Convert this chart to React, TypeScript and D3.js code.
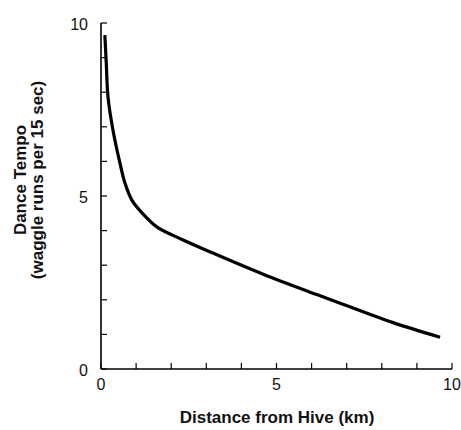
import React from 'react'
import * as d3 from 'd3'

// Data
const distance = [0.11, 0.15, 0.2, 0.34, 0.54, 0.68, 0.88, 1.17, 1.6, 2.34, 3.19, 4.62, 6.15, 6.89, 8.32, 9.66]
const tempo = [9.65, 8.84, 7.86, 6.91, 5.95, 5.38, 4.88, 4.51, 4.1, 3.73, 3.35, 2.74, 2.15, 1.87, 1.34, 0.92]
const xTickLabels = [0, 5, 10]
const yTickLabels = [0, 5, 10]
const minorTicks = d3.range(0, 11)

export default function App() {
    const width = 461
    const height = 430

    const x = d3.scaleLinear().domain([0, 10]).range([101, 452])
    const y = d3.scaleLinear().domain([0, 10]).range([369, 23])

    const points: [number, number][] = distance.map((d, i) => [d, tempo[i]])
    const line = d3.line<[number, number]>()
        .x(d => x(d[0]))
        .y(d => y(d[1]))
        .curve(d3.curveCatmullRom.alpha(0.5))

    const font = '"Liberation Sans", Arial, sans-serif'
    const tickLen = 6

    return (
        <svg width={width} height={height} style={{ position: 'absolute', left: 0, top: 0, background: '#fff' }}
            fontFamily={font}>
            {/* axes */}
            <line x1={x(0)} x2={x(10)} y1={y(0)} y2={y(0)} stroke="#000" strokeWidth={1.6} />
            <line x1={x(0)} x2={x(0)} y1={y(0)} y2={y(10)} stroke="#000" strokeWidth={1.6} />

            {/* ticks, pointing inward */}
            {minorTicks.map(t => (
                <line key={'xt' + t} x1={x(t)} x2={x(t)} y1={y(0)} y2={y(0) - tickLen} stroke="#000" strokeWidth={1.2} />
            ))}
            {minorTicks.map(t => (
                <line key={'yt' + t} x1={x(0)} x2={x(0) + tickLen} y1={y(t)} y2={y(t)} stroke="#000" strokeWidth={1.2} />
            ))}

            {/* tick labels */}
            {xTickLabels.map(t => (
                <text key={'xl' + t} x={x(t)} y={390} textAnchor="middle" fontSize={16} fill="#111">{t}</text>
            ))}
            {yTickLabels.map(t => (
                <text key={'yl' + t} x={88} y={y(t) + 3} textAnchor="end" fontSize={16} fill="#111"
                    dominantBaseline="middle">{t}</text>
            ))}

            {/* curve */}
            <path d={line(points) || ''} fill="none" stroke="#000" strokeWidth={3.2} strokeLinecap="butt" />

            {/* axis titles */}
            <text x={277} y={423} textAnchor="middle" fontSize={17} fontWeight="bold" fill="#111">
                Distance from Hive (km)
            </text>
            <g transform="translate(26,180) rotate(-90)">
                <text x={0} y={0} textAnchor="middle" fontSize={17} fontWeight="bold" fill="#111">Dance Tempo</text>
                <text x={0} y={17} textAnchor="middle" fontSize={17} fontWeight="bold" fill="#111">
                    (waggle runs per 15 sec)
                </text>
            </g>
        </svg>
    )
}
